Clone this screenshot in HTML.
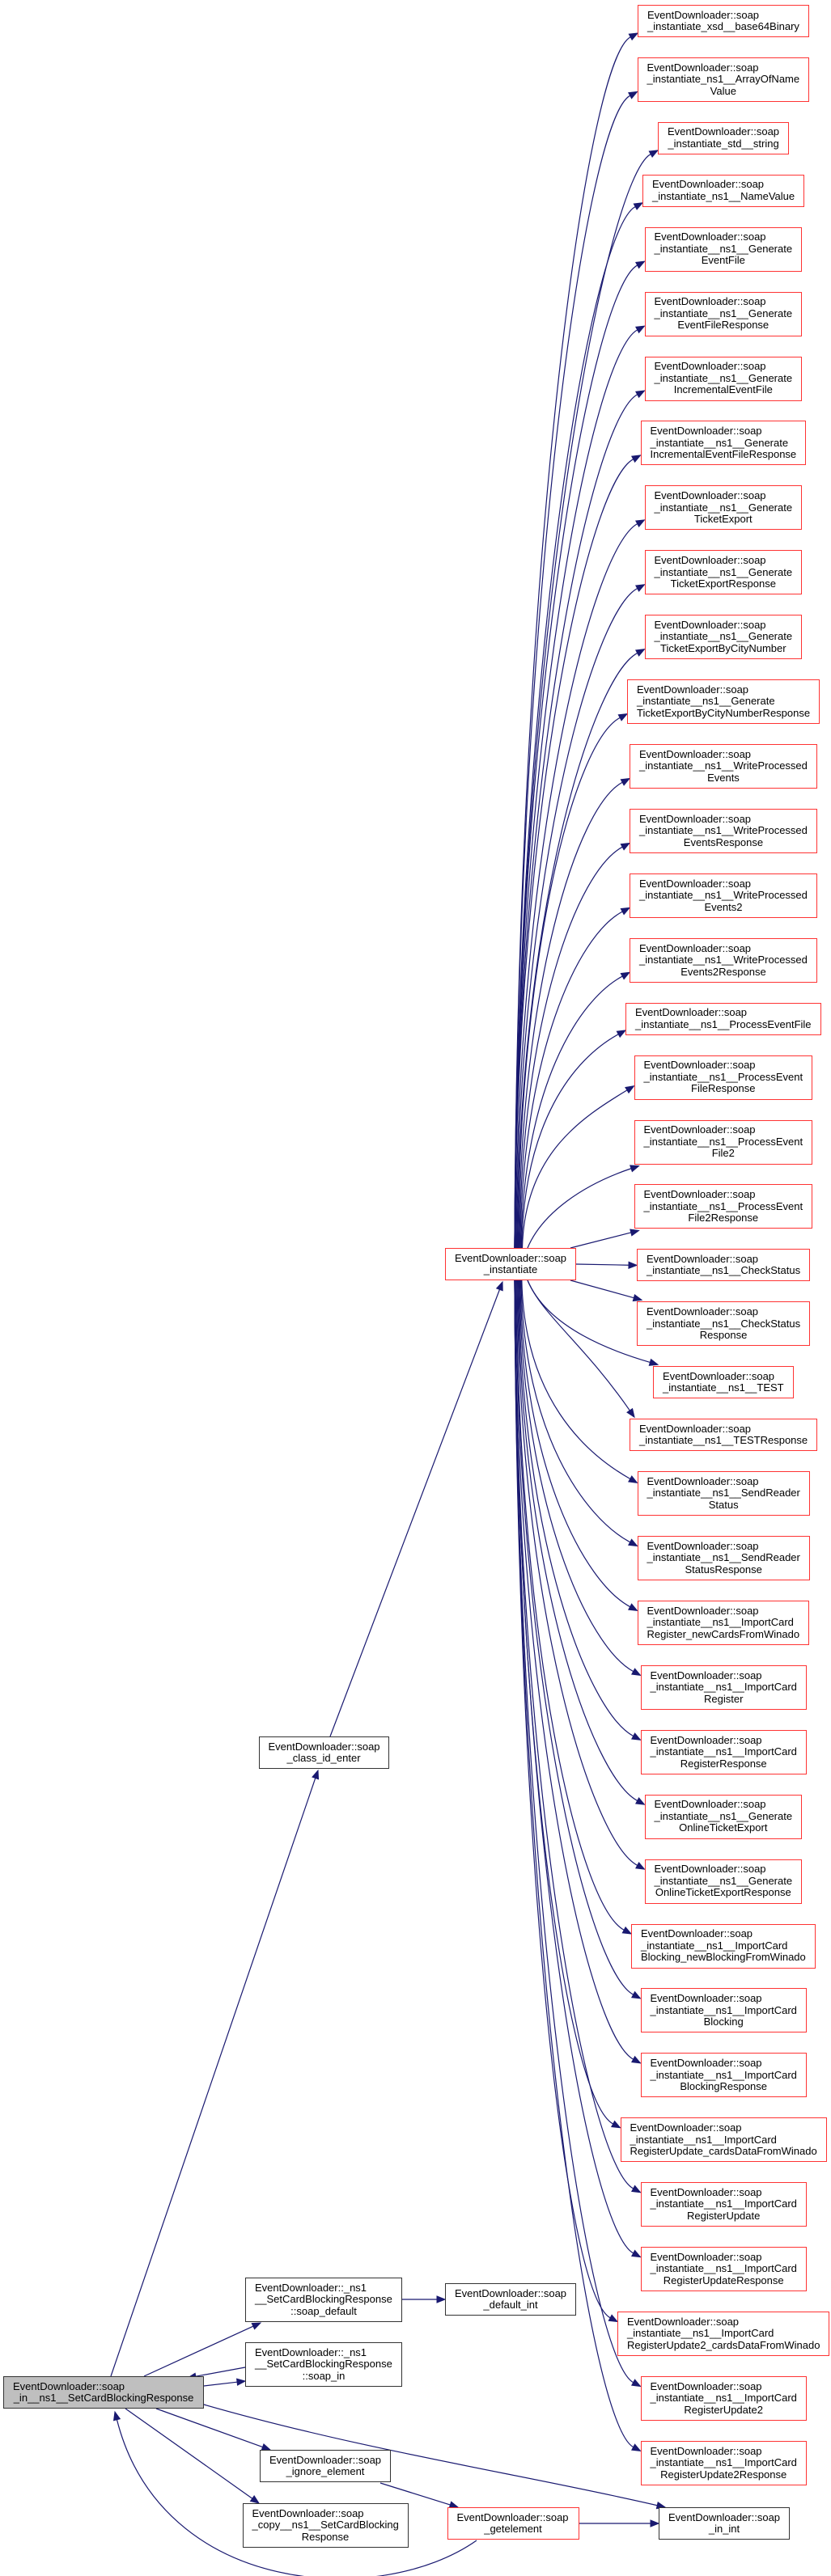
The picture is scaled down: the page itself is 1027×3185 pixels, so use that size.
<!DOCTYPE html>
<html><head><meta charset="utf-8">
<style>
html,body{margin:0;padding:0;background:#fff;}
body{width:1027px;height:3185px;position:relative;overflow:hidden;font-family:"Liberation Sans",Arial,sans-serif;font-size:13px;color:#000;}
.n{position:absolute;box-sizing:border-box;border:1.3px solid #333;background:#fff;padding:0 11px;display:flex;flex-direction:column;justify-content:center;white-space:nowrap;line-height:14.5px;}
.n.red{border-color:#f33;}
.n.gray{background:#bfbfbf;}
.n div{text-align:left;}
.n div.c{text-align:center;}
svg{position:absolute;left:0;top:0;}
</style></head><body>
<svg id="s" width="1027" height="3185"></svg>
<script>
var R=[
["_instantiate_xsd__base64Binary"],
["_instantiate_ns1__ArrayOfName","Value"],
["_instantiate_std__string"],
["_instantiate_ns1__NameValue"],
["_instantiate__ns1__Generate","EventFile"],
["_instantiate__ns1__Generate","EventFileResponse"],
["_instantiate__ns1__Generate","IncrementalEventFile"],
["_instantiate__ns1__Generate","IncrementalEventFileResponse"],
["_instantiate__ns1__Generate","TicketExport"],
["_instantiate__ns1__Generate","TicketExportResponse"],
["_instantiate__ns1__Generate","TicketExportByCityNumber"],
["_instantiate__ns1__Generate","TicketExportByCityNumberResponse"],
["_instantiate__ns1__WriteProcessed","Events"],
["_instantiate__ns1__WriteProcessed","EventsResponse"],
["_instantiate__ns1__WriteProcessed","Events2"],
["_instantiate__ns1__WriteProcessed","Events2Response"],
["_instantiate__ns1__ProcessEventFile"],
["_instantiate__ns1__ProcessEvent","FileResponse"],
["_instantiate__ns1__ProcessEvent","File2"],
["_instantiate__ns1__ProcessEvent","File2Response"],
["_instantiate__ns1__CheckStatus"],
["_instantiate__ns1__CheckStatus","Response"],
["_instantiate__ns1__TEST"],
["_instantiate__ns1__TESTResponse"],
["_instantiate__ns1__SendReader","Status"],
["_instantiate__ns1__SendReader","StatusResponse"],
["_instantiate__ns1__ImportCard","Register_newCardsFromWinado"],
["_instantiate__ns1__ImportCard","Register"],
["_instantiate__ns1__ImportCard","RegisterResponse"],
["_instantiate__ns1__Generate","OnlineTicketExport"],
["_instantiate__ns1__Generate","OnlineTicketExportResponse"],
["_instantiate__ns1__ImportCard","Blocking_newBlockingFromWinado"],
["_instantiate__ns1__ImportCard","Blocking"],
["_instantiate__ns1__ImportCard","BlockingResponse"],
["_instantiate__ns1__ImportCard","RegisterUpdate_cardsDataFromWinado"],
["_instantiate__ns1__ImportCard","RegisterUpdate"],
["_instantiate__ns1__ImportCard","RegisterUpdateResponse"],
["_instantiate__ns1__ImportCard","RegisterUpdate2_cardsDataFromWinado"],
["_instantiate__ns1__ImportCard","RegisterUpdate2"],
["_instantiate__ns1__ImportCard","RegisterUpdate2Response"]
];
function mk(lines,cx,top,cls,w){
  var d=document.createElement('div');d.className='n '+(cls||'');
  for(var i=0;i<lines.length;i++){var l=document.createElement('div');l.textContent=lines[i];if(i==lines.length-1)l.className='c';d.appendChild(l);}
  var h=lines.length==3?55:40;
  d.style.top=top+'px';d.style.height=h+'px';
  if(w)d.style.width=w+'px';
  document.body.appendChild(d);
  var ww=d.offsetWidth;d.style.left=(cx-ww/2)+'px';
  return {l:cx-ww/2,r:cx+ww/2,t:top,b:top+h,cy:top+h/2};
}
var right=[];var y=6;
for(var i=0;i<R.length;i++){
  var lines=["EventDownloader::soap"].concat(R[i]);
  right.push(mk(lines,894,y,'red'));
  y+=(lines.length==3?55:40)+24.92;
}
mk(["EventDownloader::soap","_in__ns1__SetCardBlockingResponse"],128,2938,'gray',248);
mk(["EventDownloader::soap","_instantiate"],631,1543,'red',162);
mk(["EventDownloader::soap","_class_id_enter"],400,2147,'',161);
mk(["EventDownloader::_ns1","__SetCardBlockingResponse","::soap_default"],400,2816,'',194);
mk(["EventDownloader::soap","_default_int"],631,2823,'',162);
mk(["EventDownloader::_ns1","__SetCardBlockingResponse","::soap_in"],400,2896,'',194);
mk(["EventDownloader::soap","_ignore_element"],402,3029,'',162);
mk(["EventDownloader::soap","_copy__ns1__SetCardBlocking","Response"],402,3095,'',205);
mk(["EventDownloader::soap","_getelement"],634,3100,'red',163);
mk(["EventDownloader::soap","_in_int"],895,3100,'',162);

var S=document.getElementById('s');var out='';var C='#191970';
function edge(p0,p1,p2,p3){
  var dx=p3[0]-p2[0],dy=p3[1]-p2[1],L=Math.sqrt(dx*dx+dy*dy)||1;dx/=L;dy/=L;
  var al=10,aw=4;
  var bx=p3[0]-dx*al,by=p3[1]-dy*al;
  out+='<path d="M'+p0[0]+','+p0[1]+' C'+p1[0]+','+p1[1]+' '+p2[0]+','+p2[1]+' '+bx+','+by+'" fill="none" stroke="'+C+'" stroke-width="1.2"/>';
  out+='<polygon points="'+p3[0]+','+p3[1]+' '+(bx-dy*aw)+','+(by+dx*aw)+' '+(bx+dy*aw)+','+(by-dx*aw)+'" fill="'+C+'" stroke="'+C+'"/>';
}
function line(a,b){edge(a,[a[0]+(b[0]-a[0])/3,a[1]+(b[1]-a[1])/3],[a[0]+2*(b[0]-a[0])/3,a[1]+2*(b[1]-a[1])/3],b);}
line([137,2938],[393,2189]);
line([408,2147],[621,1585]);
line([178,2938],[322,2872]);
line([303,2927],[232,2940]);
line([252,2950],[303,2944]);
line([193,2978],[334,3029]);
line([155,2978],[320,3095]);
edge([252,2973],[450,3030],[650,3060],[822,3100]);
line([470,3070],[566,3100]);
line([716,3120],[814,3120]);
edge([589,3141],[470,3225],[200,3210],[142,2982]);
line([497,2843],[550,2843]);
for(var i=0;i<right.length;i++){
  var n=right[i];var tx=n.l,ty=n.cy;
  if(ty<1543-5){
    var dy=1543-ty;
    if(dy<100){line([705,1543],[tx+6,n.b+2]);continue;}
    if(dy<200){edge([652,1543],[670,1500],[720,1465],[tx+6,n.b+2]);continue;}
    var sx=636+Math.max(0,Math.min(12,12*(1-dy/1000)));
    var off=Math.min(50,dy*0.25);
    edge([sx,1543],[sx+3,1543-dy*0.55],[tx-off*1.3,ty+off],[tx,ty+Math.min(15,dy*0.05)]);
  } else if(ty>1583+5){
    var dy=ty-1583;
    if(dy<100){line([705,1583],[tx+6,n.t-2]);continue;}
    if(dy<200){edge([652,1583],[670,1626],[720,1660],[tx+6,n.t-2]);continue;}
    var sx=636+Math.max(0,Math.min(12,12*(1-dy/1000)));
    var off=Math.min(50,dy*0.25);
    edge([sx,1583],[sx+3,1583+dy*0.55],[tx-off*1.3,ty-off],[tx,ty-Math.min(15,dy*0.05)]);
  } else {
    line([712,1563],[tx,ty]);
  }
}
S.innerHTML=out;
</script>
</body></html>
